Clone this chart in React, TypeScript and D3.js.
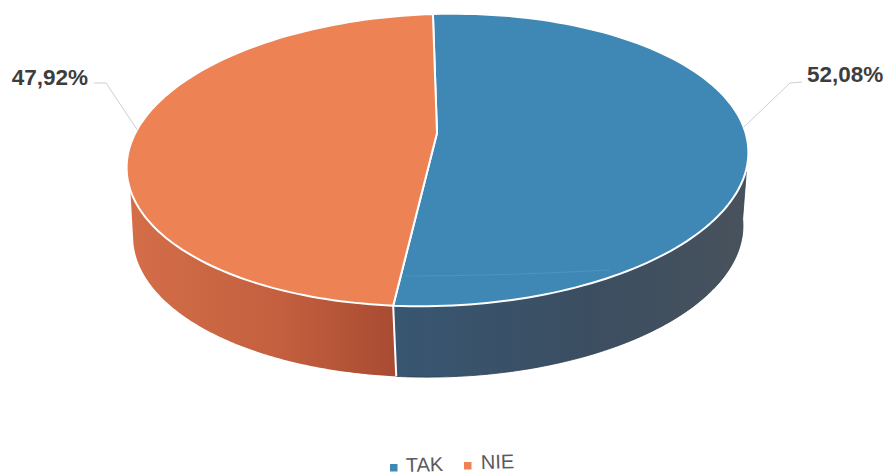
import React from "react";
import * as d3 from "d3";

const categories = ["TAK", "NIE"];
const values = [52.08, 47.92];
const valueLabels = ["52,08%", "47,92%"];
const topColors = ["#3f87b5", "#ed8355"];

const W = 888, H = 475;
const deg = Math.PI / 180;

type Ell = { cx: number; cy: number; rx: number; ry: number; tilt: number };
const topE: Ell = { cx: 437.5, cy: 160, rx: 311, ry: 146, tilt: -1.8 * deg };
const lowE: Ell = { cx: 438, cy: 231, rx: 305, ry: 146, tilt: -1.3 * deg };
const apex: [number, number] = [437, 133];

const at = (e: Ell, a: number): [number, number] => {
  const dx = e.rx * Math.sin(a), dy = -e.ry * Math.cos(a);
  return [
    e.cx + dx * Math.cos(e.tilt) - dy * Math.sin(e.tilt),
    e.cy + dx * Math.sin(e.tilt) + dy * Math.cos(e.tilt),
  ];
};
// perspective foreshortening of the rim
const warp = (a: number) => a + (1.56 * deg * (1 - Math.cos(a))) / 2;
const arcPts = (e: Ell, a0: number, a1: number) =>
  d3.range(0, 121).map((i) => at(e, a0 + ((a1 - a0) * i) / 120));

const line = d3.line();

export default function App() {
  const slices = d3.pie<number>().sort(null).startAngle(0).endAngle(2 * Math.PI)(values);
  const boundary = warp(slices[0].endAngle);
  const lowBoundary = boundary - 0.55 * deg;

  const tops = slices.map((s) => {
    const a0 = warp(s.startAngle), a1 = warp(s.endAngle);
    return line([apex, ...arcPts(topE, a0, a1)]) + "Z";
  });

  const wallBlue =
    line([
      ...arcPts(topE, 97 * deg, boundary),
      ...arcPts(lowE, lowBoundary, 88 * deg),
    ]) + "Z";
  const wallOrange =
    line([
      ...arcPts(topE, boundary, 262 * deg),
      ...arcPts(lowE, 268 * deg, lowBoundary),
    ]) + "Z";
  const divider = line([at(topE, boundary), at(lowE, lowBoundary)])!;

  const mids = slices.map((s) => (s.startAngle + s.endAngle) / 2);
  const leaderShift = [-13.5, 11.5];
  const labelAnchor: [number, number][] = [[802, 82], [94, 83]];
  const elbow: [number, number][] = [[790, 83], [106, 83]];
  const labelX = [807, 88];
  const labelY = [82, 85];
  const labelAlign = ["start", "end"];

  const legendSquares = [[390, 464], [464, 462]];
  const legendText = [[406, 472], [481, 469]];

  return (
    <svg width={W} height={H} style={{ position: "absolute", left: 0, top: 0, background: "#fff" }} fontFamily="'Liberation Sans', Arial, sans-serif">
      <defs>
        <linearGradient id="wb" x1="393" x2="748" y1="0" y2="0" gradientUnits="userSpaceOnUse">
          <stop offset="0" stopColor="#385672" />
          <stop offset="0.55" stopColor="#3b4e61" />
          <stop offset="1" stopColor="#48525c" />
        </linearGradient>
        <linearGradient id="wo" x1="130" x2="396" y1="0" y2="0" gradientUnits="userSpaceOnUse">
          <stop offset="0" stopColor="#d46e49" />
          <stop offset="0.55" stopColor="#c4603f" />
          <stop offset="1" stopColor="#a84b32" />
        </linearGradient>
      </defs>

      <path d={wallBlue} fill="url(#wb)" stroke="#2e3f4e" strokeWidth={0.8} />
      <path d={wallOrange} fill="url(#wo)" />
      <path d={divider} stroke="#fff" strokeWidth={2} fill="none" />

      {tops.map((d, i) => (
        <path key={categories[i]} d={d} fill={topColors[i]} stroke="#fff" strokeWidth={2} strokeLinejoin="round" />
      ))}
      <path d="M405 276 Q500 276 610 270" stroke="#6fa9cd" strokeWidth={1} fill="none" opacity={0.35} />

      {mids.map((m, i) => {
        const p = at(topE, warp(m + leaderShift[i] * deg));
        return (
          <g key={valueLabels[i]}>
            <path d={line([p, elbow[i], labelAnchor[i]])!} fill="none" stroke="#cfcfcf" strokeWidth={1} />
            <text x={labelX[i]} y={labelY[i]} textAnchor={labelAlign[i]} fontSize={22.5} fontWeight={700} fill="#3d3d3f">
              {valueLabels[i]}
            </text>
          </g>
        );
      })}

      {categories.map((c, i) => (
        <g key={c}>
          <rect x={legendSquares[i][0]} y={legendSquares[i][1]} width={7.5} height={7.5} fill={topColors[i]} />
          <text
            x={legendText[i][0]}
            y={legendText[i][1]}
            fontSize={20}
            fill="#5a5a5e"
            transform={`rotate(-1.5 ${legendText[i][0]} ${legendText[i][1]})`}
          >
            {c}
          </text>
        </g>
      ))}
    </svg>
  );
}
